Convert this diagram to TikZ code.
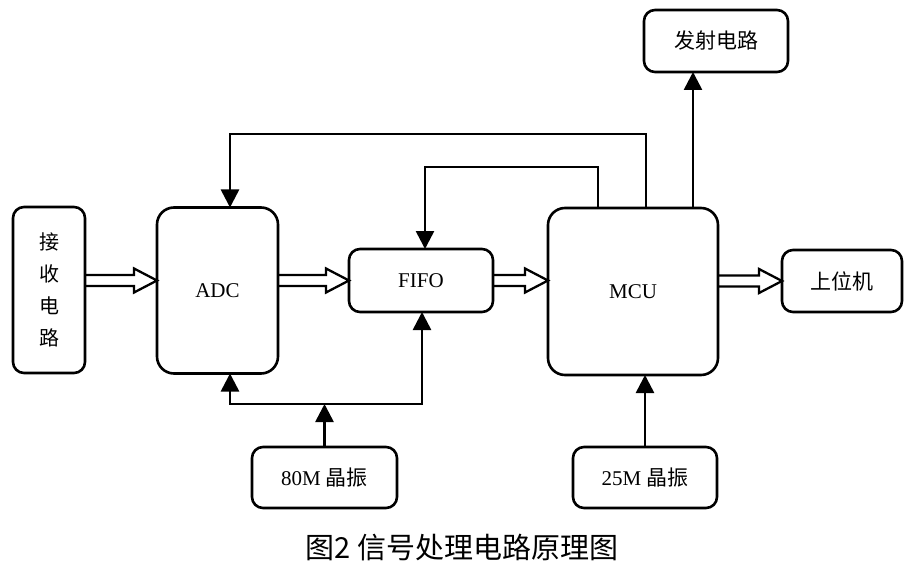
\documentclass[tikz,border=0pt]{standalone}
\usepackage{fontspec}
\setmainfont{Liberation Serif}
\newfontfamily\cjk{Noto Sans CJK SC}
\usetikzlibrary{arrows.meta,calc}
\begin{document}
\begin{tikzpicture}[x=1pt,y=-1pt,
  every node/.style={inner sep=0pt,outer sep=0pt},
  box/.style={draw,line width=2.6pt,rounded corners=11pt,font=\fontsize{21}{24}\selectfont},
  bigbox/.style={box,rounded corners=17pt},
  arr/.style={line width=2.6pt,-{Triangle[length=18pt,width=18pt]}},
  fat/.style={line width=2.3pt,line join=miter,
    to path={($(\tikztostart)+(0,-5.5)$) -- ($(\tikztotarget)+(-23,-5.5)$)
      -- ($(\tikztotarget)+(-23,-12)$) -- (\tikztotarget)
      -- ($(\tikztotarget)+(-23,12)$) -- ($(\tikztotarget)+(-23,5.5)$)
      -- ($(\tikztostart)+(0,5.5)$)}}]
\useasboundingbox[fill=white] (0,0) rectangle (916,567);

% nodes
\node[box,minimum width=72pt,minimum height=166pt,align=center,
  font=\fontsize{20}{32}\selectfont\cjk] (recv) at (49,290) {接\\收\\电\\路};
\node[bigbox,minimum width=121pt,minimum height=166pt] (ADC) at (217.5,290.5) {ADC};
\node[box,minimum width=144pt,minimum height=63pt] (FIFO) at (421,280.5) {FIFO};
\node[bigbox,minimum width=170pt,minimum height=167pt] (MCU) at (633,291.5) {MCU};
\node[box,minimum width=144pt,minimum height=62pt] (tx) at (716,41) {\cjk 发射电路};
\node[box,minimum width=120pt,minimum height=62pt] (pc) at (842,281) {\cjk 上位机};
\node[box,minimum width=145pt,minimum height=61pt] (osc80) at (324.5,477.5) {80M {\cjk 晶振}};
\node[box,minimum width=144pt,minimum height=61pt] (osc25) at (645,477.5) {25M {\cjk 晶振}};
\node[font=\fontsize{29}{32}\selectfont\cjk] (cap) at (462,548) {图2 信号处理电路原理图};

% fat data arrows
\coordinate (a0) at (recv.east |- FIFO.west);
\coordinate (a1) at (ADC.west |- FIFO.west);
\coordinate (b0) at (ADC.east |- FIFO.west);
\coordinate (c1) at (MCU.west |- FIFO.west);
\coordinate (d0) at (MCU.east |- pc.west);
\draw[fat] (a0) to (a1);
\draw[fat] (b0) to (FIFO.west);
\draw[fat] (FIFO.east) to (c1);
\draw[fat] (d0) to (pc.west);

% control lines
\draw[arr] (MCU.north -| 646,0) -- ++(0,-74) -| (ADC.north -| 230,0);
\draw[arr] (MCU.north -| 598,0) -- ++(0,-41) -| (FIFO.north -| 425,0);
\draw[arr] (MCU.north -| 693,0) -- (tx.south -| 693,0);
\draw[arr] (osc25.north) -- (MCU.south -| osc25.north);

% clock bus
\coordinate (busL) at (230,404);
\coordinate (busR) at (422,404);
\coordinate (busM) at (osc80.north |- busL);
\draw[line width=2.6pt,{Triangle[length=18pt,width=18pt]}-{Triangle[length=18pt,width=18pt]}]
  (ADC.south -| busL) -- (busL) -- (busR) -- (FIFO.south -| busR);
\draw[arr] (osc80.north) -- (busM);
\end{tikzpicture}
\end{document}
